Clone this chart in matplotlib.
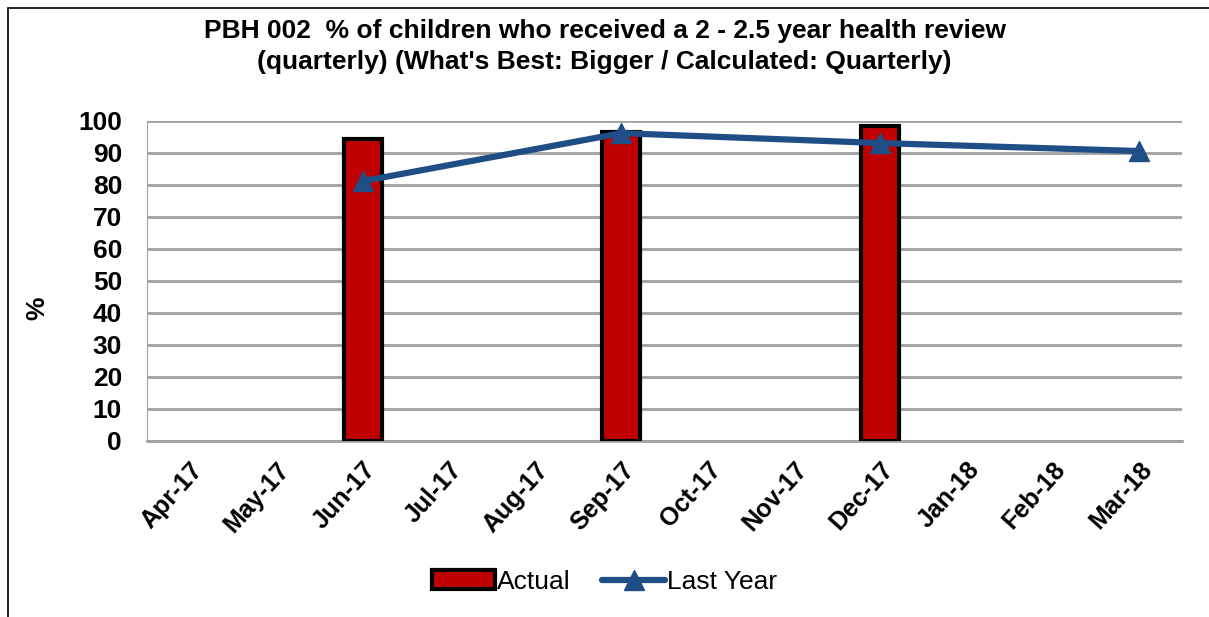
import matplotlib.pyplot as plt
import numpy as np

plt.rcParams['font.family'] = ['Liberation Sans', 'DejaVu Sans']

months = ["Apr-17", "May-17", "Jun-17", "Jul-17", "Aug-17", "Sep-17",
          "Oct-17", "Nov-17", "Dec-17", "Jan-18", "Feb-18", "Mar-18"]
actual = [np.nan, np.nan, 94.5, np.nan, np.nan, 96.5,
          np.nan, np.nan, 98.5, np.nan, np.nan, np.nan]
last_year = [np.nan, np.nan, 81.2, np.nan, np.nan, 96.2,
             np.nan, np.nan, 93.1, np.nan, np.nan, 90.6]

fig = plt.figure(figsize=(12.09, 6.17), dpi=100)
ax = fig.add_axes([0.1216, 0.2853, 0.8561, 0.5186])

x = np.arange(len(months))
act = np.array(actual)
am = ~np.isnan(act)
bars = ax.bar(x[am], act[am], width=0.44, color="#c00000",
              edgecolor="black", linewidth=3, label="Actual", zorder=3)

ly = np.array(last_year)
mask = ~np.isnan(ly)
line, = ax.plot(x[mask], ly[mask], color="#1f4e86", linewidth=4.5, marker="^",
                markersize=15, label="Last Year", zorder=4, solid_capstyle="round")

ax.set_xlim(-0.5, len(months) - 0.5)
ax.set_ylim(0, 100)
ax.set_yticks(range(0, 101, 10))
ax.yaxis.grid(True, color="#a0a0a0", linewidth=2, zorder=0)
ax.set_axisbelow(True)
for s in ["top", "right"]:
    ax.spines[s].set_visible(False)
ax.spines["left"].set_color("#a0a0a0")
ax.spines["bottom"].set_color("#a0a0a0")
ax.spines["bottom"].set_linewidth(2)
ax.tick_params(axis="y", length=0, pad=18)
ax.tick_params(axis="x", length=0, pad=12)
ax.set_xticks(x)
ax.set_xticklabels(months, rotation=48, ha="right", rotation_mode="anchor",
                   fontsize=18, fontweight="bold")
for lab in ax.get_yticklabels():
    lab.set_fontsize(19)
    lab.set_fontweight("bold")

fig.text(37 / 1209, 0.5 + 0.0, "%", rotation=90, ha="center", va="center",
         fontsize=19, fontweight="bold")

fig.text(0.5, 0.97, "PBH 002  % of children who received a 2 - 2.5 year health review\n"
         "(quarterly) (What's Best: Bigger / Calculated: Quarterly)",
         ha="center", va="top", fontsize=19, fontweight="bold", linespacing=1.4)

fig.legend([bars, line], ["Actual", "Last Year"], loc="center",
           bbox_to_anchor=(0.5, 0.057), ncol=2, frameon=False, fontsize=19,
           handlelength=2.4, columnspacing=1.2, handletextpad=0.05)

fig.add_artist(plt.Rectangle((8 / 1209, -0.1), 1.2, 1 - 8 / 617 + 0.1,
                             transform=fig.transFigure, fill=False,
                             edgecolor="black", linewidth=1.2))

fig.savefig("out.png", dpi=100)
